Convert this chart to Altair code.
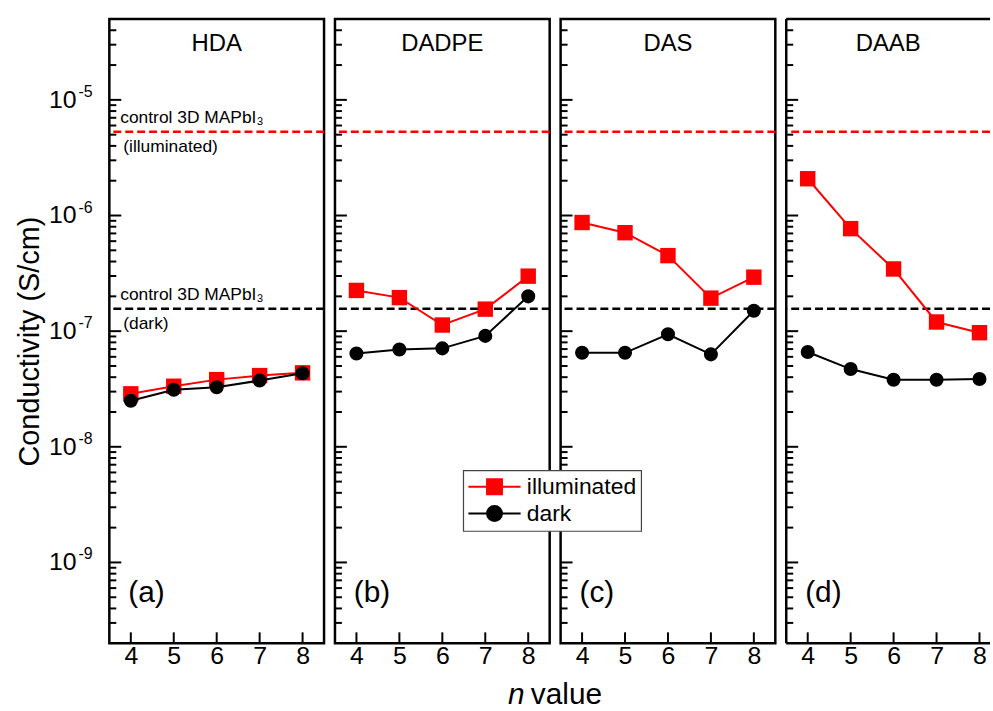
import altair as alt
import pandas as pd

# ---------------- data ----------------
n_values = [4, 5, 6, 7, 8]
panel_names = ["HDA", "DADPE", "DAS", "DAAB"]
panel_tags = ["(a)", "(b)", "(c)", "(d)"]
series_names = ["illuminated", "dark"]

hda_illuminated = [2.87e-8, 3.34e-8, 3.81e-8, 4.13e-8, 4.36e-8]
hda_dark = [2.50e-8, 3.11e-8, 3.27e-8, 3.74e-8, 4.32e-8]
dadpe_illuminated = [2.25e-7, 1.95e-7, 1.13e-7, 1.55e-7, 2.99e-7]
dadpe_dark = [6.4e-8, 6.95e-8, 7.1e-8, 9.1e-8, 2.0e-7]
das_illuminated = [8.7e-7, 7.1e-7, 4.5e-7, 1.93e-7, 2.93e-7]
das_dark = [6.5e-8, 6.5e-8, 9.4e-8, 6.3e-8, 1.5e-7]
daab_illuminated = [2.08e-6, 7.7e-7, 3.45e-7, 1.2e-7, 9.7e-8]
daab_dark = [6.6e-8, 4.7e-8, 3.8e-8, 3.8e-8, 3.86e-8]

control_labels = ["illuminated", "dark"]
control_values = [5.3e-6, 1.56e-7]
control_text_top = ["control 3D MAPbI\u2083", "control 3D MAPbI\u2083"]
control_text_bottom = ["(illuminated)", "(dark)"]

major_ticks = [1e-9, 1e-8, 1e-7, 1e-6, 1e-5]
major_exponents = ["-9", "-8", "-7", "-6", "-5"]
minor_ticks = [m * 10.0 ** e for e in range(-10, -4) for m in range(2, 10)
               if 2.01e-10 < m * 10.0 ** e < 4.9e-5]

illum_lists = [hda_illuminated, dadpe_illuminated, das_illuminated, daab_illuminated]
dark_lists = [hda_dark, dadpe_dark, das_dark, daab_dark]

rows = []
for p, il, dk in zip(panel_names, illum_lists, dark_lists):
    for n, a, b in zip(n_values, il, dk):
        rows.append({"panel": p, "n": n, "series": "illuminated", "value": a})
        rows.append({"panel": p, "n": n, "series": "dark", "value": b})
df = pd.DataFrame(rows)

ctrl_df = pd.DataFrame({"series": control_labels, "value": control_values,
                        "top": control_text_top, "bottom": control_text_bottom})
major_df = pd.DataFrame({"v": major_ticks, "base": ["10"] * len(major_ticks), "exp": major_exponents})
minor_df = pd.DataFrame({"v": minor_ticks})
nticks_df = pd.DataFrame({"n": n_values})

# ---------------- style ----------------
FONT = "Liberation Sans"
H = 628
panel_widths = [216, 216, 216, 205]
x_max = [8.5, 8.5, 8.5, 3.5 + 205 / 43.2]
RED = "#ff0000"
BLACK = "#000000"
yscale = alt.Scale(type="log", domain=[2e-10, 5e-5], nice=False)
cscale = alt.Scale(domain=series_names, range=[RED, BLACK])
SQ_PATH = "M-3.5,0H3.5M-1,-1H1V1H-1Z"
CI_PATH = "M-3.5,0H3.5M1,0A1,1,0,1,1,-1,0A1,1,0,1,1,1,0Z"


def make_panel(i):
    name = panel_names[i]
    W = panel_widths[i]
    sub = df[df.panel == name]
    xs = alt.Scale(domain=[3.5, x_max[i]], nice=False, zero=False)
    xaxis = alt.Axis(values=n_values, format="d", ticks=False, domain=False, grid=False,
                     labelFontSize=25, labelPadding=0, title=None, labelColor="black")
    if i == 0:
        yaxis = alt.Axis(title="Conductivity (S/cm)", labels=False, ticks=False, domain=False,
                         grid=False, titleFontSize=29, titleFontWeight="normal",
                         titleColor="black", titleX=-65, titleY=324)
    else:
        yaxis = None

    def Y(f):
        return alt.Y(f"{f}:Q", scale=yscale, axis=yaxis)

    def X(f):
        return alt.X(f"{f}:Q", scale=xs, axis=xaxis)

    layers = []
    layers.append(
        alt.Chart(ctrl_df).mark_rule(strokeDash=[8, 4], strokeWidth=2.5).encode(
            y=Y("value"), color=alt.Color("series:N", scale=cscale, legend=None))
    )
    layers.append(
        alt.Chart(minor_df).mark_rule(strokeWidth=2, color="black").encode(
            y=Y("v"), x=alt.value(0), x2=alt.value(7))
    )
    layers.append(
        alt.Chart(major_df).mark_rule(strokeWidth=2, color="black").encode(
            y=Y("v"), x=alt.value(0), x2=alt.value(12))
    )
    layers.append(
        alt.Chart(nticks_df).mark_rule(strokeWidth=2, color="black").encode(
            x=X("n"), y=alt.value(H), y2=alt.value(H - 11))
    )
    for s, shp, size in [("illuminated", "square", 240), ("dark", "circle", 200)]:
        d = sub[sub.series == s]
        layers.append(
            alt.Chart(d).mark_line(strokeWidth=2).encode(
                x=X("n"), y=Y("value"), color=alt.Color("series:N", scale=cscale, legend=None))
        )
        layers.append(
            alt.Chart(d).mark_point(shape=shp, filled=True, size=size, opacity=1).encode(
                x=X("n"), y=Y("value"), color=alt.Color("series:N", scale=cscale, legend=None))
        )
    # panel title and tag
    layers.append(
        alt.Chart(pd.DataFrame({"name": [name]})).mark_text(
            fontSize=24, align="center", baseline="middle", color="black").encode(
            text="name:N", x=alt.value(W / 2), y=alt.value(25))
    )
    layers.append(
        alt.Chart(pd.DataFrame({"tag": [panel_tags[i]]})).mark_text(
            fontSize=30, align="left", baseline="middle", color="black").encode(
            text="tag:N", x=alt.value(19), y=alt.value(577))
    )
    if i == 0:
        layers.append(
            alt.Chart(major_df).mark_text(fontSize=25, align="right", baseline="middle",
                                          color="black").encode(
                y=Y("v"), x=alt.value(-33), text="base:N")
        )
        layers.append(
            alt.Chart(major_df).mark_text(fontSize=16, align="left", baseline="middle",
                                          dy=-8, color="black").encode(
                y=Y("v"), x=alt.value(-31), text="exp:N")
        )
        layers.append(
            alt.Chart(ctrl_df).mark_text(fontSize=17.5, align="left", baseline="middle",
                                         dy=-14, color="black").encode(
                y=Y("value"), x=alt.value(11), text="top:N")
        )
        layers.append(
            alt.Chart(ctrl_df).mark_text(fontSize=17.5, align="left", baseline="middle",
                                         dy=15, color="black").encode(
                y=Y("value"), x=alt.value(14), text="bottom:N")
        )
    if i == 2:
        # legend carrier (no marks drawn, only the legend)
        leg = alt.Legend(title=None, orient="none", legendX=-98, legendY=454)
        layers.append(
            alt.Chart(sub).transform_filter("false").mark_point(
                filled=True, size=225, strokeWidth=2, opacity=1).encode(
                x=X("n"), y=Y("value"),
                fill=alt.Fill("series:N", scale=alt.Scale(domain=series_names, range=[RED, BLACK]),
                              legend=leg),
                stroke=alt.Stroke("series:N", scale=alt.Scale(domain=series_names, range=[RED, BLACK]),
                                  legend=leg),
                shape=alt.Shape("series:N", scale=alt.Scale(domain=series_names, range=[SQ_PATH, CI_PATH]),
                                legend=leg),
            )
        )
    if i == 1:
        layers.append(
            alt.Chart(pd.DataFrame({"t": ["n"]})).mark_text(
                fontSize=30, fontStyle="italic", align="left", baseline="alphabetic",
                color="black").encode(text="t:N", x=alt.value(174), y=alt.value(689))
        )
        layers.append(
            alt.Chart(pd.DataFrame({"t": ["value"]})).mark_text(
                fontSize=30, align="left", baseline="alphabetic",
                color="black").encode(text="t:N", x=alt.value(197), y=alt.value(689))
        )
    if i == 3:
        border = pd.DataFrame({"k": [0]})
        layers.append(alt.Chart(border).mark_rule(strokeWidth=2.5, color="black").encode(
            x=alt.value(0), y=alt.value(0), y2=alt.value(H)))
        layers.append(alt.Chart(border).mark_rule(strokeWidth=2.5, color="black").encode(
            x=alt.value(0), x2=alt.value(W), y=alt.value(0)))
        layers.append(alt.Chart(border).mark_rule(strokeWidth=2.5, color="black").encode(
            x=alt.value(0), x2=alt.value(W), y=alt.value(H)))

    ch = alt.layer(*layers).properties(width=W, height=H)
    if i == 3:
        ch = ch.properties(view=alt.ViewBackground(stroke="transparent"))
    return ch


chart = alt.hconcat(*[make_panel(i) for i in range(4)], spacing=11, bounds="flush").resolve_scale(
    fill="independent", stroke="independent", shape="independent"
).resolve_legend(
    fill="independent", stroke="independent", shape="independent"
).properties(
    padding={"left": 14, "top": 14, "right": 0, "bottom": 0}
).configure(font=FONT).configure_view(stroke="black", strokeWidth=2.5).configure_legend(
    padding=5, fillColor="white",
    strokeColor="#444444", strokeWidth=1.2, labelFontSize=23, labelColor="black",
    symbolOffset=15, labelOffset=21, rowPadding=3, symbolStrokeWidth=2, symbolSize=225,
    cornerRadius=0, labelLimit=300
)

chart.save("out.html", embed_options={"renderer": "svg", "actions": False})
